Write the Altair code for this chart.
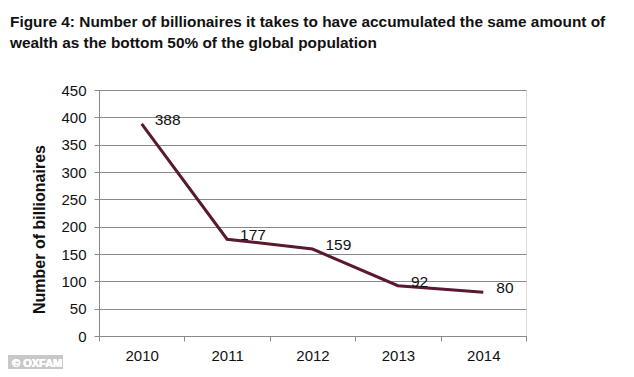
import altair as alt
import pandas as pd

years = ["2010", "2011", "2012", "2013", "2014"]
billionaires = [388, 177, 159, 92, 80]
labels = ["388", "177", "159", "92", "80"]

title_lines = [
    "Figure 4: Number of billionaires it takes to have accumulated the same amount of",
    "wealth as the bottom 50% of the global population",
]
y_title = "Number of billionaires"

df = pd.DataFrame({"year": years, "value": billionaires, "label": labels})

FONT = "Liberation Sans"
GRID = "#8a8a8a"
LINE = "#5a1832"

x_enc = alt.X(
    "year:O",
    scale=alt.Scale(type="band", paddingInner=0, paddingOuter=0),
    axis=alt.Axis(
        title=None, labelAngle=0, labelFontSize=15, labelFont=FONT, labelColor="#111",
        tickBand="extent", tickSize=5, tickColor=GRID, domainColor=GRID,
        labelPadding=7, grid=False,
    ),
)
y_enc = alt.Y(
    "value:Q",
    scale=alt.Scale(domain=[0, 450], nice=False),
    axis=alt.Axis(
        title=y_title, values=list(range(0, 451, 50)), labelFontSize=15, labelFont=FONT,
        labelColor="#111", tickSize=5, tickColor=GRID, domainColor=GRID,
        gridColor=GRID, gridOpacity=1, labelPadding=8,
        titleFont=FONT, titleFontSize=16, titleFontWeight="bold", titleColor="#111",
        titleX=-55, titleY=139, titleBaseline="alphabetic", titleAngle=-90,
    ),
)

base = alt.Chart(df).encode(x=x_enc, y=y_enc)

line = base.mark_line(color=LINE, strokeWidth=3)
text = base.mark_text(
    align="left", baseline="middle", dx=13, dy=-4, fontSize=15.5, font=FONT, color="#111"
).encode(text="label:N")

wm_box = alt.Chart(df).mark_rect(color="#c8c8c8").encode(
    x=alt.value(-91), x2=alt.value(-36), y=alt.value(265), y2=alt.value(281)
)
wm_text = alt.Chart(df).mark_text(
    text="© OXFAM", align="left", baseline="alphabetic", fontSize=11,
    fontWeight="bold", font=FONT, color="white"
).encode(x=alt.value(-87), y=alt.value(277))

chart = (
    alt.layer(line, text, wm_box, wm_text)
    .properties(
        width=427,
        height=246,
        autosize=alt.AutoSizeParams(type="none"),
        padding={"left": 91, "top": 82, "right": 100, "bottom": 33},
        title=alt.TitleParams(
            text=title_lines, anchor="start", frame="group", dx=-89,
            font=FONT, fontSize=15.4, fontWeight="bold", color="#111",
            lineHeight=21, offset=32,
        ),
    )
    .configure_view(stroke=None)
    .configure(background="white")
)

chart.save("out.html", embed_options={"renderer": "svg", "actions": False})
